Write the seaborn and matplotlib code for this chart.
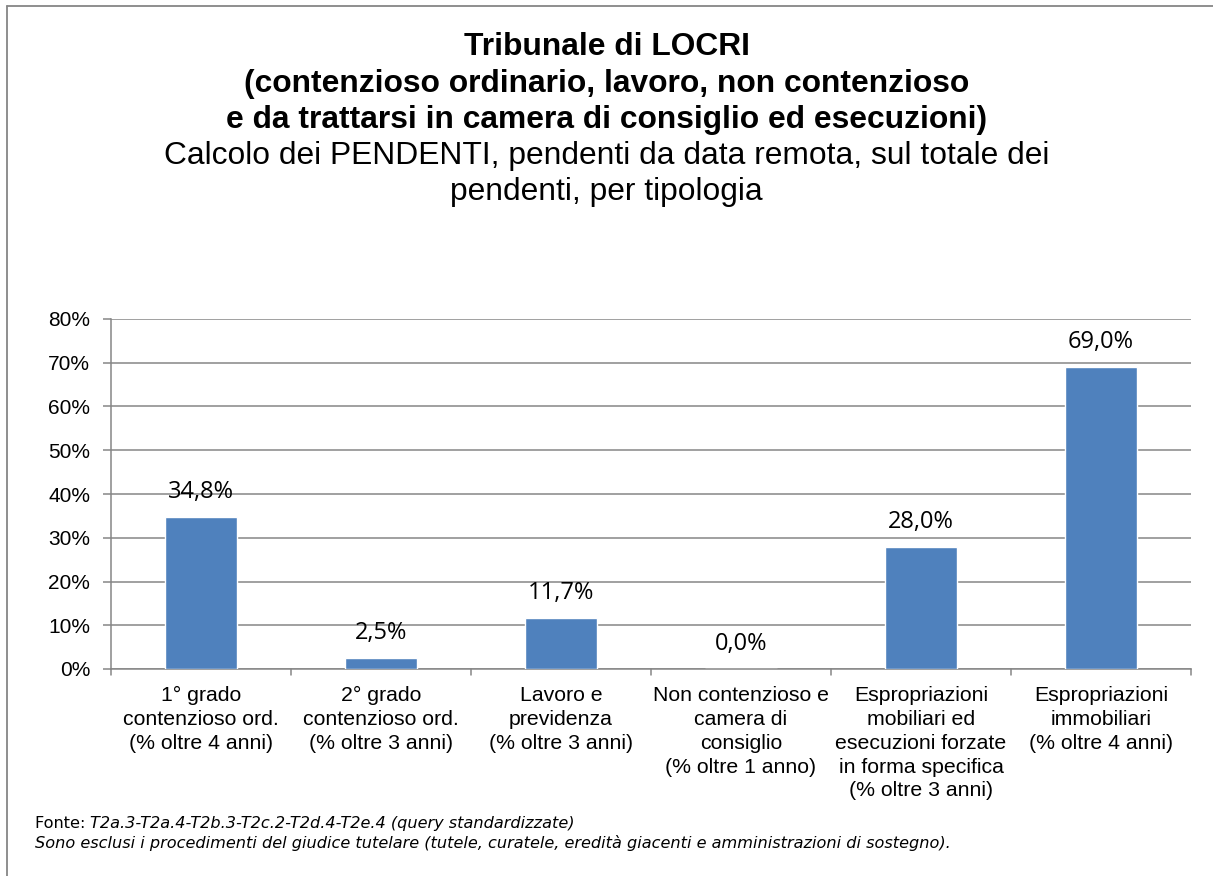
import matplotlib
matplotlib.use("Agg")
import matplotlib.pyplot as plt
import seaborn as sns
import pandas as pd
from matplotlib.lines import Line2D

categories = [
    "1° grado\ncontenzioso ord.\n(% oltre 4 anni)",
    "2° grado\ncontenzioso ord.\n(% oltre 3 anni)",
    "Lavoro e\nprevidenza\n(% oltre 3 anni)",
    "Non contenzioso e\ncamera di\nconsiglio\n(% oltre 1 anno)",
    "Espropriazioni\nmobiliari ed\nesecuzioni forzate\nin forma specifica\n(% oltre 3 anni)",
    "Espropriazioni\nimmobiliari\n(% oltre 4 anni)",
]
values = [34.8, 2.5, 11.7, 0.0, 28.0, 69.0]
yticks = [0, 10, 20, 30, 40, 50, 60, 70, 80]

title_lines = ["Tribunale di LOCRI",
               "(contenzioso ordinario, lavoro, non contenzioso",
               "e da trattarsi in camera di consiglio ed esecuzioni)"]
subtitle_lines = ["Calcolo dei PENDENTI, pendenti da data remota, sul totale dei",
                  "pendenti, per tipologia"]

sns.set_theme(style="white")
plt.rcParams['font.family'] = ['Liberation Sans', 'DejaVu Sans']
plt.rcParams['text.color'] = 'black'

W, H = 1213, 876
GRID = "#868686"
fig = plt.figure(figsize=(W / 100, H / 100), dpi=100)
ax = fig.add_axes([111 / W, 1 - 669 / H, (1191 - 111) / W, (669 - 319) / H])

df = pd.DataFrame({"cat": categories, "val": values})
sns.barplot(data=df, x="cat", y="val", ax=ax, color="#4F81BD", saturation=1, width=0.4, zorder=3)

ax.set_ylim(0, 80)
ax.set_xlim(-0.5, len(categories) - 0.5)
ax.set_yticks(yticks)
ax.set_yticklabels([f"{t}%" for t in yticks], fontsize=15, color="black")
ax.yaxis.grid(True, color=GRID, linewidth=1.1, zorder=0)
ax.set_xlabel("")
ax.set_ylabel("")
ax.set_xticks(range(len(categories)))
ax.set_xticklabels(categories, fontsize=15.3, linespacing=1.33, va="top", color="black")
ax.tick_params(axis="x", length=0, pad=12)
ax.tick_params(axis="y", length=6, color=GRID, width=1.1, pad=9, left=True)
for s in ["top", "right"]:
    ax.spines[s].set_visible(False)
for s in ["left", "bottom"]:
    ax.spines[s].set_color(GRID)
    ax.spines[s].set_linewidth(1.1)

# category separator ticks on x axis
for i in range(len(categories) + 1):
    ax.plot([i - 0.5, i - 0.5], [0, -1.4], color=GRID, lw=1.1, clip_on=False, zorder=4)

for i, v in enumerate(values):
    ax.text(i, v + 4.3, f"{v:.1f}".replace(".", ",") + "%", ha="center", va="baseline",
            fontsize=17, family=["Open Sans", "DejaVu Sans"], color="black")

baselines = [55, 92, 128]
for t, y in zip(title_lines, baselines):
    fig.text(0.5, 1 - y / H, t, ha="center", va="baseline", fontsize=22.9, fontweight="bold")
for t, y in zip(subtitle_lines, [164, 200]):
    fig.text(0.5, 1 - y / H, t, ha="center", va="baseline", fontsize=22.9)

fs_foot = 11.6
t1 = fig.text(35 / W, 1 - 828 / H, "Fonte: ", ha="left", va="baseline", fontsize=fs_foot,
              family=["DejaVu Sans"])
fig.canvas.draw()
bb = t1.get_window_extent()
fig.text(bb.x1 / W, 1 - 828 / H, "T2a.3-T2a.4-T2b.3-T2c.2-T2d.4-T2e.4 (query standardizzate)", ha="left",
         va="baseline", fontsize=fs_foot, family=["DejaVu Sans"], style="italic")
fig.text(35 / W, 1 - 848 / H,
         "Sono esclusi i procedimenti del giudice tutelare (tutele, curatele, eredità giacenti e amministrazioni di sostegno).",
         ha="left", va="baseline", fontsize=fs_foot, family=["DejaVu Sans"], style="italic")

# outer chart frame (left and top edges visible)
fig.add_artist(Line2D([7 / W, 7 / W], [0, 1 - 6 / H], transform=fig.transFigure, color=GRID, lw=1.3))
fig.add_artist(Line2D([7 / W, 1], [1 - 6 / H, 1 - 6 / H], transform=fig.transFigure, color=GRID, lw=1.3))

fig.savefig("out.png", dpi=100)
